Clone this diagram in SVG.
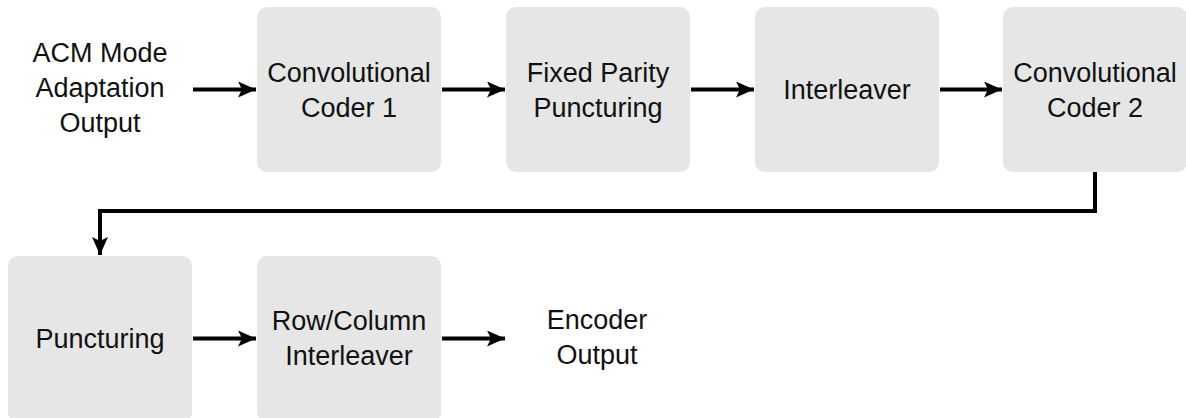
<svg xmlns="http://www.w3.org/2000/svg" width="1186" height="418" viewBox="0 0 1186 418">
<style>
.box{fill:#e6e6e6;stroke:none}
.t{font-family:"Liberation Sans",Arial,sans-serif;font-size:27px;fill:#111;text-anchor:middle}
.c{fill:none;stroke:#000;stroke-width:4}
</style>
<defs>
<marker id="ah" markerUnits="userSpaceOnUse" markerWidth="20" markerHeight="16" refX="18" refY="8" orient="auto" viewBox="0 0 20 16">
<path d="M0,0 L18,8 L0,16 L4,8 Z" fill="#000"/>
</marker>
</defs>
<rect width="1186" height="418" fill="#fff"/>
<g id="input"><text class="t" x="100" y="62">ACM Mode</text><text class="t" x="100" y="97">Adaptation</text><text class="t" x="100" y="132">Output</text></g>
<g id="cc1"><rect class="box" x="257" y="7" width="184" height="165" rx="10"/><text class="t" x="349" y="82">Convolutional</text><text class="t" x="349" y="117">Coder 1</text></g>
<g id="fpp"><rect class="box" x="506" y="7" width="184" height="165" rx="10"/><text class="t" x="598" y="82">Fixed Parity</text><text class="t" x="598" y="117">Puncturing</text></g>
<g id="il"><rect class="box" x="755" y="7" width="184" height="165" rx="10"/><text class="t" x="847" y="99">Interleaver</text></g>
<g id="cc2"><rect class="box" x="1003" y="7" width="184" height="165" rx="10"/><text class="t" x="1095" y="82">Convolutional</text><text class="t" x="1095" y="117">Coder 2</text></g>
<g id="punct"><rect class="box" x="8" y="256" width="184" height="166" rx="10"/><text class="t" x="100" y="348">Puncturing</text></g>
<g id="rci"><rect class="box" x="257" y="256" width="184" height="166" rx="10"/><text class="t" x="349" y="330">Row/Column</text><text class="t" x="349" y="365">Interleaver</text></g>
<g id="output"><text class="t" x="597" y="329">Encoder</text><text class="t" x="597" y="364">Output</text></g>
<g id="connectors">
<path class="c" d="M193,89.5 H256" marker-end="url(#ah)"/>
<path class="c" d="M442,89.5 H505" marker-end="url(#ah)"/>
<path class="c" d="M691,89.5 H754" marker-end="url(#ah)"/>
<path class="c" d="M940,89.5 H1002" marker-end="url(#ah)"/>
<path class="c" d="M1095,172 V211 H100 V255" marker-end="url(#ah)"/>
<path class="c" d="M193,338.5 H256" marker-end="url(#ah)"/>
<path class="c" d="M442,338.5 H505" marker-end="url(#ah)"/>
</g>
</svg>
